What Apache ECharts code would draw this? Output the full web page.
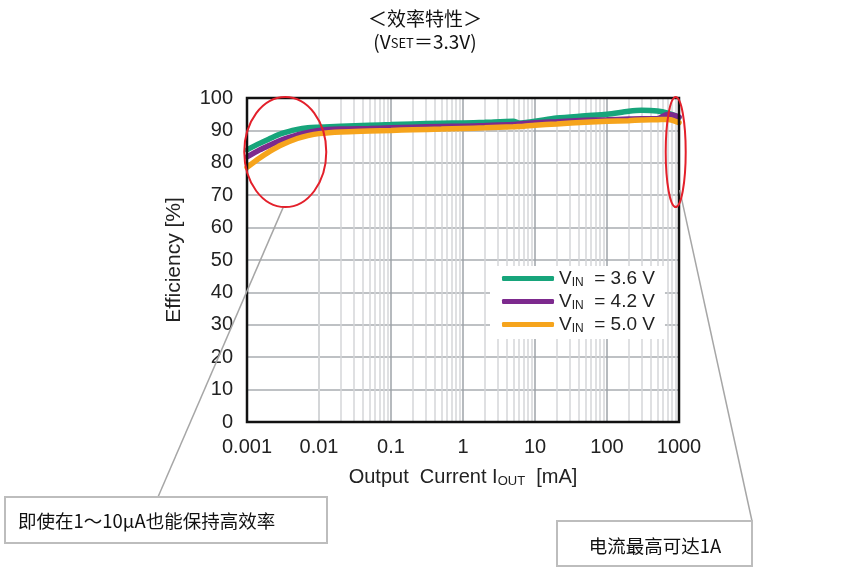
<!DOCTYPE html>
<html>
<head>
<meta charset="utf-8">
<title>效率特性</title>
<script src="https://cdn.jsdelivr.net/npm/echarts@6/dist/echarts.min.js"></script>
<style>
html,body{margin:0;padding:0;background:#fff;}
#main{width:850px;height:570px;}
</style>
</head>
<body>
<div id="main"></div>
<script>
// output current [mA]
var current = [0.001, 0.0015, 0.002, 0.003, 0.005, 0.007, 0.01, 0.02, 0.05, 0.1, 0.2, 0.5, 1, 2, 5, 6, 7, 10, 20, 50, 100, 200, 300, 500, 700, 1000];
// efficiency [%]
var eff36 = [84, 86, 87.3, 89, 90.3, 90.8, 91, 91.3, 91.6, 91.8, 92, 92.2, 92.3, 92.5, 92.8, 92.3, 92.4, 92.8, 93.8, 94.5, 95, 95.9, 96.2, 96, 95.3, 94];
var eff42 = [81.8, 84, 85.3, 87, 88.6, 89.4, 90, 90.4, 90.6, 90.8, 91, 91.2, 91.3, 91.5, 91.8, 92, 92.1, 92.4, 92.7, 93.1, 93.3, 93.5, 93.6, 93.6, 95, 94.2];
var eff50 = [78.6, 81.5, 83.3, 85.5, 87.5, 88.4, 89, 89.5, 89.8, 90, 90.2, 90.4, 90.6, 90.8, 91.1, 91.2, 91.3, 91.6, 92, 92.5, 92.8, 93, 93.2, 93.3, 93.4, 92.4];
var seriesNames = ['V{sub|IN}  = 3.6 V', 'V{sub|IN}  = 4.2 V', 'V{sub|IN}  = 5.0 V'];
var xTickLabels = ['0.001', '0.01', '0.1', '1', '10', '100', '1000'];
// minor grid positions inside each decade
var decades = [0.001, 0.01, 0.1, 1, 10, 100];
var minorSteps = [2, 3, 4, 5, 6, 7, 8, 9];

var colors = ['#17a57b', '#7d2a8e', '#f6a41c'];
var font = 'Liberation Sans, Arial, sans-serif';
var cjk = 'Noto Sans CJK SC, sans-serif';

function pairs(xs, ys){
	var out = [];
	for(var i = 0; i < xs.length; i++){
		out.push([xs[i], ys[i]]);
	}
	return out;
}

var minorLines = [];
for(var i = 0; i < decades.length; i++){
	for(var j = 0; j < minorSteps.length; j++){
		minorLines.push({xAxis: decades[i] * minorSteps[j]});
	}
}

var effData = [eff36, eff42, eff50];
var series = [{
	name: 'minor',
	type: 'line',
	data: [],
	silent: true,
	z: 1,
	markLine: {
		silent: true,
		z: 1,
		symbol: 'none',
		label: {show: false},
		animation: false,
		lineStyle: {color: '#d4d6d8', width: 1.5, type: 'solid'},
		emphasis: {disabled: true},
		data: minorLines
	}
}];
for(var k = 0; k < effData.length; k++){
	series.push({
		name: seriesNames[k],
		type: 'line',
		data: pairs(current, effData[k]),
		smooth: 0.3,
		showSymbol: false,
		symbol: 'none',
		z: 3 + k,
		lineStyle: {color: colors[k], width: 5.5, cap: 'round'},
		itemStyle: {color: colors[k]}
	});
}

var chart = echarts.init(document.getElementById('main'));
chart.setOption({
	animation: false,
	title: {
		text: '＜效率特性＞',
		subtext: '(V{s|SET}＝3.3V)',
		left: 'center',
		top: 4,
		itemGap: 4,
		textStyle: {fontFamily: cjk, fontSize: 19, fontWeight: 'normal', color: '#111'},
		subtextStyle: {
			fontFamily: cjk, fontSize: 19, color: '#111',
			rich: {s: {fontFamily: cjk, fontSize: 13, color: '#111', padding: [4, 0, 0, 0]}}
		}
	},
	grid: {
		left: 247, top: 98, right: 171, bottom: 148,
		show: true, borderColor: '#111', borderWidth: 2.5, backgroundColor: 'transparent', z: 10
	},
	legend: {
		data: seriesNames,
		orient: 'vertical',
		left: 490, top: 266,
		padding: [3, 10, 4, 12],
		itemGap: 3,
		itemWidth: 52, itemHeight: 5,
		icon: 'roundRect',
		backgroundColor: '#fff',
		z: 30,
		textStyle: {
			fontFamily: font, fontSize: 19, color: '#222',
			rich: {sub: {fontFamily: font, fontSize: 12, color: '#222', padding: [9, 0, 0, 0]}}
		}
	},
	xAxis: {
		type: 'log',
		logBase: 10,
		min: 0.001,
		max: 1000,
		name: 'Output  Current I{sub|OUT}  [mA]',
		nameLocation: 'middle',
		nameGap: 44,
		nameTextStyle: {
			fontFamily: font, fontSize: 20, color: '#222',
			rich: {sub: {fontFamily: font, fontSize: 13, color: '#222', padding: [9, 0, 0, 0]}}
		},
		axisLine: {show: false},
		axisTick: {show: false},
		axisLabel: {
			fontFamily: font, fontSize: 20, color: '#222', margin: 15,
			formatter: function(v, idx){ return xTickLabels[idx]; }
		},
		splitLine: {show: true, lineStyle: {color: '#9ea3a8', width: 1.5}}
	},
	yAxis: {
		type: 'value',
		min: 0, max: 100, interval: 10,
		name: 'Efficiency [%]',
		nameLocation: 'middle',
		nameGap: 62,
		nameTextStyle: {fontFamily: font, fontSize: 21, color: '#222'},
		axisLine: {show: false},
		axisTick: {show: false},
		axisLabel: {fontFamily: font, fontSize: 20, color: '#222', margin: 14},
		splitLine: {show: true, lineStyle: {color: '#a9acb0', width: 1.5}}
	},
	series: series
});

// annotations anchored to the axes
var pL = chart.convertToPixel({gridIndex: 0}, [0.0034, 83.3]);
var pR = chart.convertToPixel({gridIndex: 0}, [900, 83.3]);
var red = '#e3202b', gray = '#a6a6a6';
chart.setOption({
	graphic: [
		{type: 'line', shape: {x1: pL[0] - 2, y1: pL[1] + 55, x2: 158, y2: 497}, style: {stroke: gray, lineWidth: 1.5}, z: 20},
		{type: 'line', shape: {x1: pR[0] + 4, y1: pR[1] + 38, x2: 752, y2: 521}, style: {stroke: gray, lineWidth: 1.5}, z: 20},
		{type: 'ellipse', shape: {cx: pL[0], cy: pL[1], rx: 41, ry: 55}, style: {fill: 'none', stroke: red, lineWidth: 2}, z: 21},
		{type: 'ellipse', shape: {cx: pR[0], cy: pR[1], rx: 10, ry: 55}, style: {fill: 'none', stroke: red, lineWidth: 2}, z: 21},
		{type: 'rect', shape: {x: 5, y: 497, width: 322, height: 46}, style: {fill: '#fff', stroke: '#bdbdbd', lineWidth: 2}, z: 22},
		{type: 'text', x: 18, y: 521, style: {text: '即使在1～10μA也能保持高效率', font: '18.5px ' + cjk, fill: '#111', textVerticalAlign: 'middle'}, z: 23},
		{type: 'rect', shape: {x: 557, y: 521, width: 195, height: 45}, style: {fill: '#fff', stroke: '#bdbdbd', lineWidth: 2}, z: 22},
		{type: 'text', x: 655, y: 546, style: {text: '电流最高可达1A', font: '18.5px ' + cjk, fill: '#111', textAlign: 'center', textVerticalAlign: 'middle'}, z: 23}
	]
});
</script>
</body>
</html>
